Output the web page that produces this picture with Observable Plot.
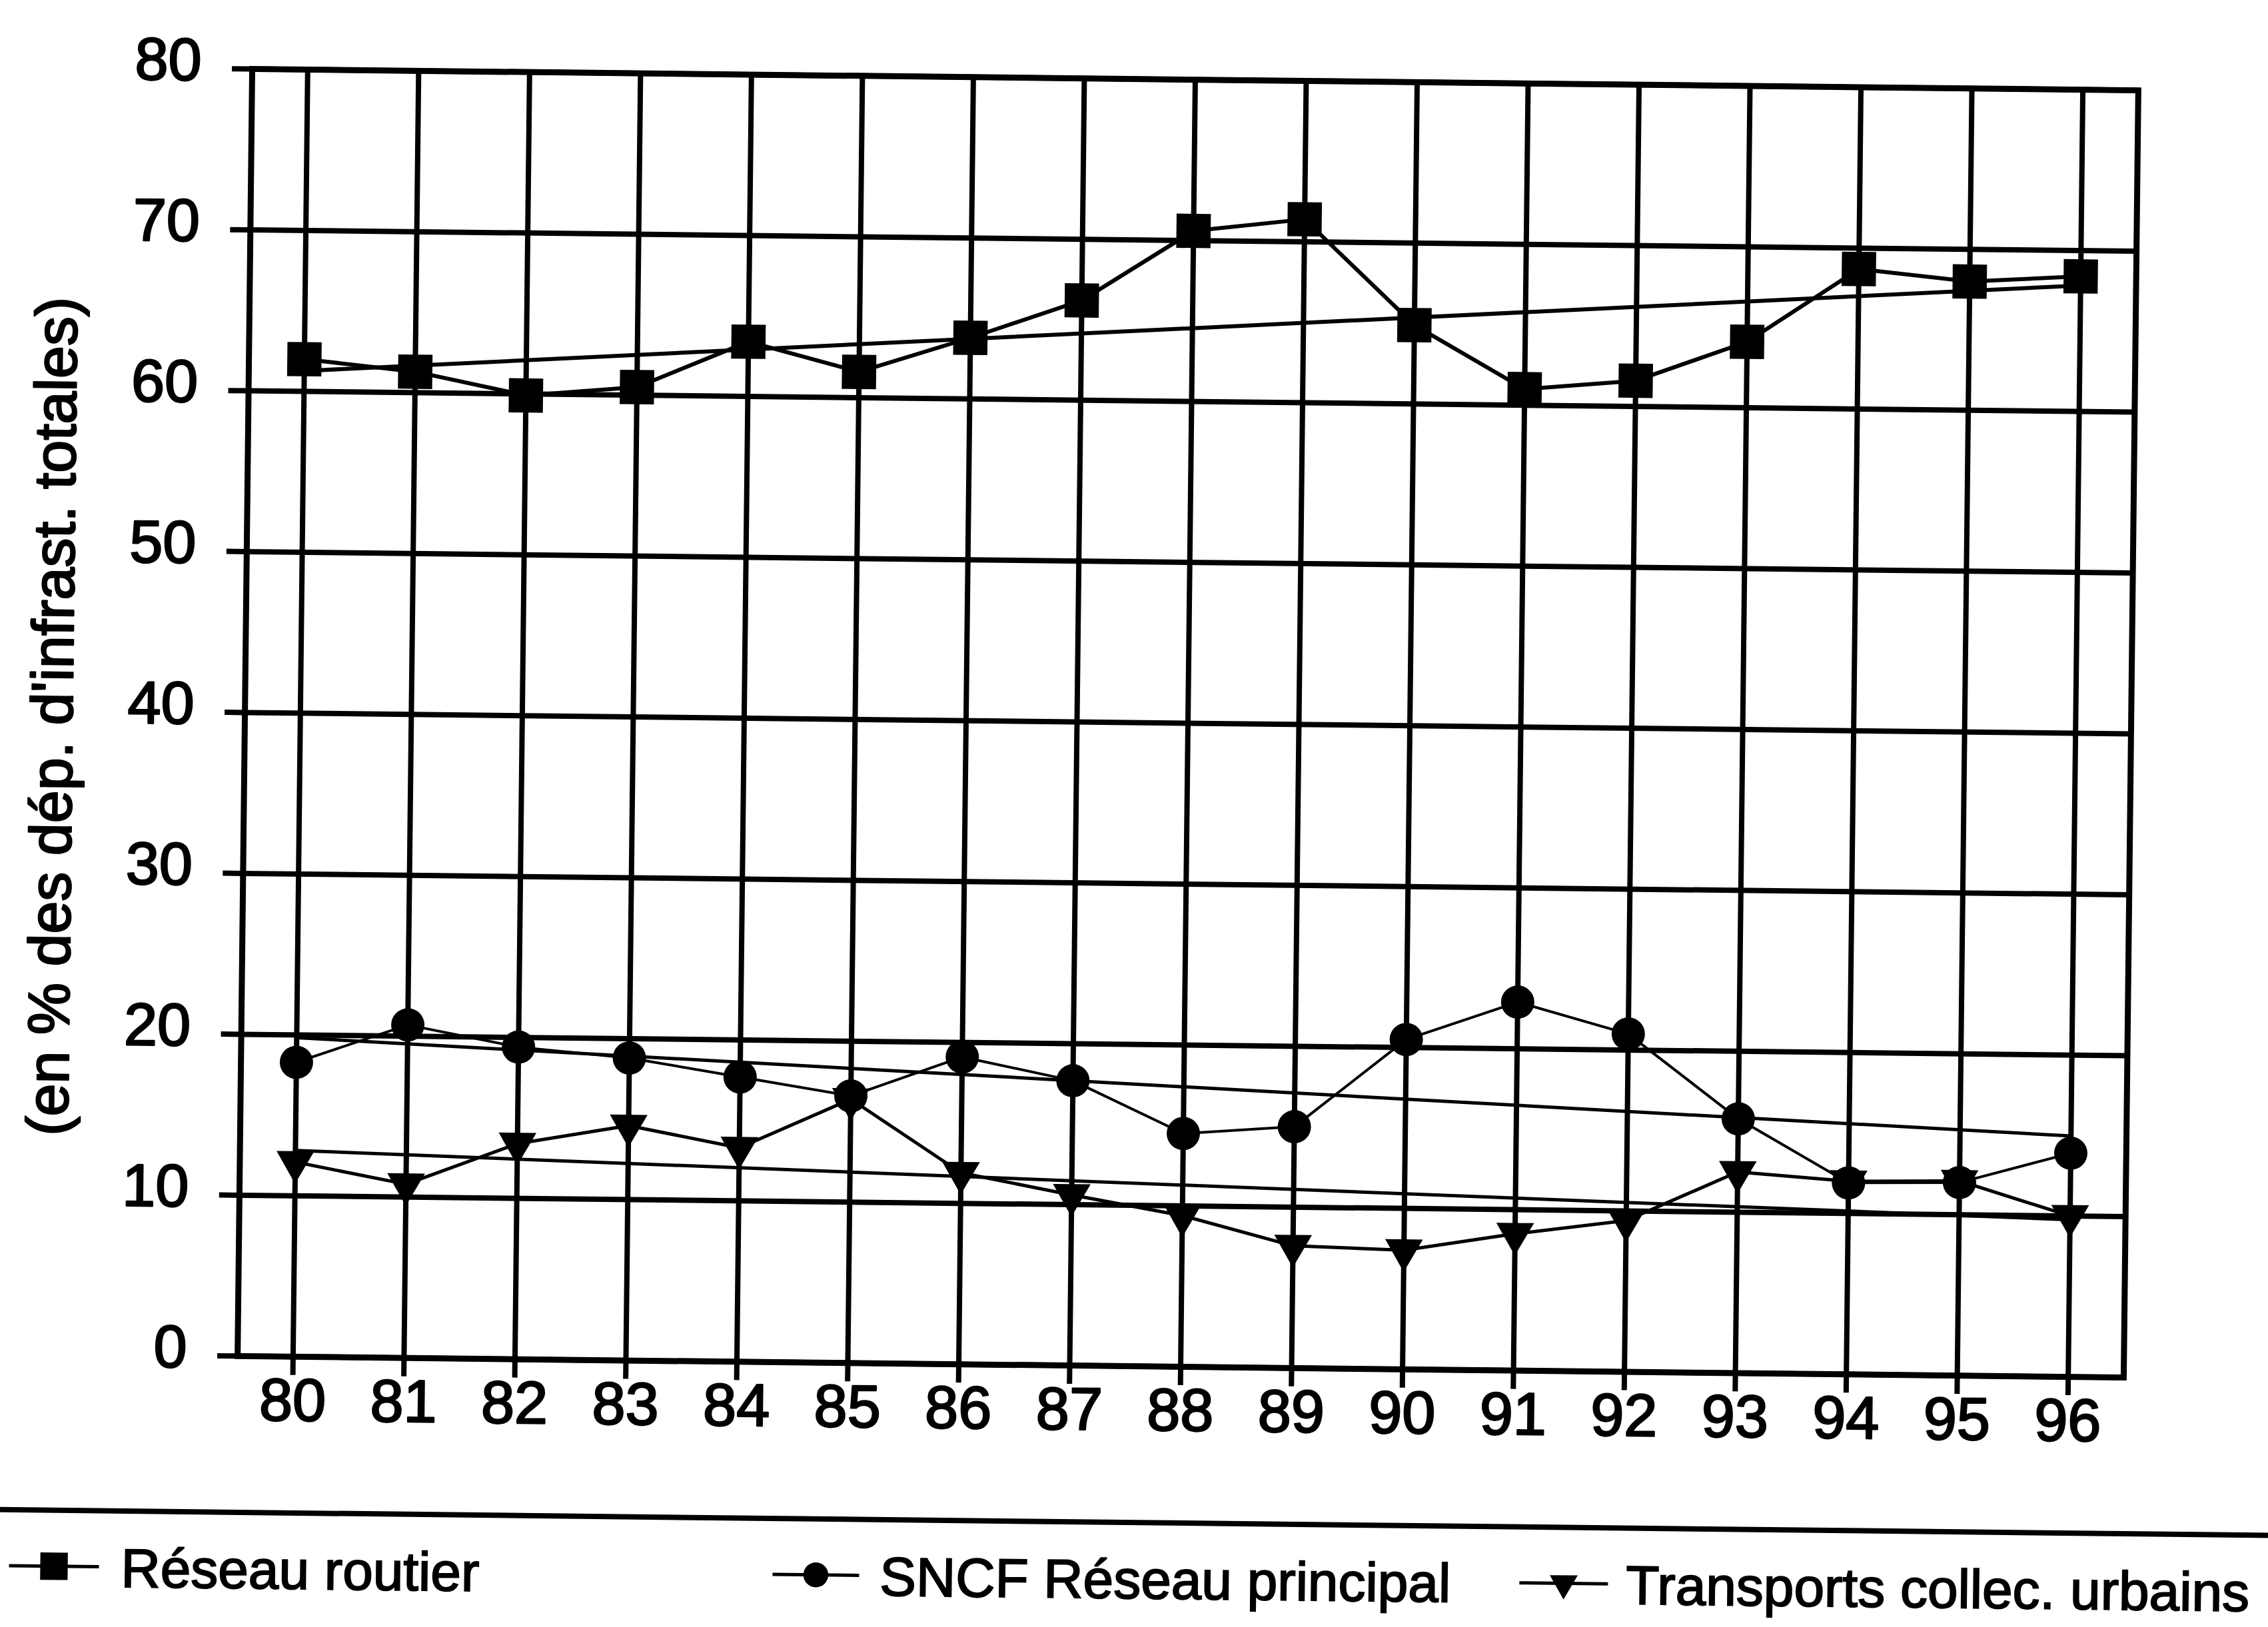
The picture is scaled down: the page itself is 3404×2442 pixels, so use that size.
<!DOCTYPE html>
<html>
<head>
<meta charset="utf-8">
<script src="https://cdn.jsdelivr.net/npm/d3@7"></script>
<script src="https://cdn.jsdelivr.net/npm/@observablehq/plot@0.6"></script>
<style>
  html, body { margin: 0; padding: 0; background: #fff; width: 3404px; height: 2442px; overflow: hidden; }
  #wrap {
    position: absolute; left: 0; top: 0; width: 3404px; height: 2442px;
    transform: rotate(0.65deg); transform-origin: 1783px 1085px;
    font-family: "Liberation Sans", Arial, sans-serif; color: #000;
  }
  #chart { position: absolute; left: 0; top: 0; }
  #legend { position: absolute; left: 0; top: 2201px; }
</style>
</head>
<body>
<div id="wrap"><div id="chart"></div><div id="legend"></div></div>
<script>
// ---- data ----
const years = [80, 81, 82, 83, 84, 85, 86, 87, 88, 89, 90, 91, 92, 93, 94, 95, 96];
const reseauRoutier = [62.0, 61.3, 59.9, 60.5, 63.4, 61.6, 63.8, 66.2, 70.6, 71.4, 64.9, 61.0, 61.6, 64.1, 68.7, 68.0, 68.4];
const sncfReseauPrincipal = [18.3, 20.7, 19.4, 18.8, 17.7, 16.6, 19.1, 17.7, 14.5, 15.0, 20.5, 22.9, 21.0, 15.8, 11.9, 12.0, 13.9];
const transportsCollecUrbains = [12.1, 10.8, 13.4, 14.6, 13.3, 16.4, 11.9, 10.6, 9.4, 7.6, 7.4, 8.5, 9.4, 12.5, 12.0, 12.1, 10.0];
const yTicks = [0, 10, 20, 30, 40, 50, 60, 70, 80];
const seriesNames = ["Réseau routier", "SNCF Réseau principal", "Transports collec. urbains"];
const yLabel = "(en % des dép. d'infrast. totales)";

// ---- build tables ----
const toRows = vals => years.map((x, i) => ({x, y: vals[i]}));
const routier = toRows(reseauRoutier);
const sncf = toRows(sncfReseauPrincipal);
const transports = toRows(transportsCollecUrbains);

// downward-pointing triangle symbol (same area convention as d3.symbolTriangle)
const triangleDown = {
  draw(context, size) {
    const y = -Math.sqrt(size / (Math.sqrt(3) * 3));
    context.moveTo(0, -2 * y);
    context.lineTo(-Math.sqrt(3) * y, y);
    context.lineTo(Math.sqrt(3) * y, y);
    context.closePath();
  }
};

const font = '"Liberation Sans", Arial, sans-serif';
const ink = "black";

const chart = Plot.plot({
  width: 3404,
  height: 2201,
  marginLeft: 367,
  marginRight: 206,
  marginTop: 119,
  marginBottom: 150,
  style: {fontFamily: font, fontSize: "90px", color: ink, background: "white", overflow: "visible"},
  x: {domain: [79.5, 96.5]},
  y: {domain: [0, 80]},
  marks: [
    Plot.gridX(years, {stroke: ink, strokeOpacity: 1, strokeWidth: 8}),
    Plot.gridY(yTicks, {stroke: ink, strokeOpacity: 1, strokeWidth: 8}),
    Plot.frame({stroke: ink, strokeWidth: 9}),
    Plot.axisX(years, {tickSize: 28, tickPadding: 4, fontSize: 90, strokeWidth: 8, label: null,
      tickFormat: d => String(d), textStroke: ink, textStrokeWidth: 2.5}),
    Plot.axisY(yTicks, {tickSize: 30, strokeWidth: 8, label: null, tickFormat: () => ""}),
    Plot.axisY(yTicks, {tickSize: 0, tickPadding: 76, dy: -11, fontSize: 90, label: null,
      tickFormat: d => String(d), textStroke: ink, textStrokeWidth: 2.5}),
    Plot.text([yLabel], {text: d => d, frameAnchor: "left", textAnchor: "middle", rotate: -90,
      dx: -287, dy: 9, fontSize: 88, fill: ink, stroke: ink, strokeWidth: 2.5}),
    // trend lines
    Plot.linearRegressionY(routier, {x: "x", y: "y", stroke: ink, strokeWidth: 6, ci: 0}),
    Plot.linearRegressionY(sncf, {x: "x", y: "y", stroke: ink, strokeWidth: 5, ci: 0}),
    Plot.linearRegressionY(transports, {x: "x", y: "y", stroke: ink, strokeWidth: 5, ci: 0}),
    // series
    Plot.line(routier, {x: "x", y: "y", stroke: ink, strokeWidth: 6}),
    Plot.line(sncf, {x: "x", y: "y", stroke: ink, strokeWidth: 4}),
    Plot.line(transports, {x: "x", y: "y", stroke: ink, strokeWidth: 5}),
    Plot.dot(routier, {x: "x", y: "y", symbol: "square", r: 29, fill: ink}),
    Plot.dot(sncf, {x: "x", y: "y", symbol: "circle", r: 25, fill: ink}),
    Plot.dot(transports, {x: "x", y: "y", symbol: triangleDown, r: 21, fill: ink})
  ]
});
document.getElementById("chart").appendChild(chart);

// ---- legend below the chart ----
const legendSvg = d3.select("#legend").append("svg")
  .attr("width", 3404).attr("height", 241)
  .style("overflow", "visible");

legendSvg.append("line")
  .attr("x1", -60).attr("x2", 3464).attr("y1", 85).attr("y2", 85)
  .attr("stroke", ink).attr("stroke-width", 8);

const symbols = [d3.symbolSquare, d3.symbolCircle, triangleDown];
const symbolSizes = [1700, 1100, 760];
const legendX = [28, 1174, 2295];     // start of each key's line
const keyWidth = [135, 130, 133];
const textGap = [33, 31, 27];
const baseline = 199, symY = 169;

seriesNames.forEach((name, i) => {
  const g = legendSvg.append("g");
  const x0 = legendX[i], x1 = x0 + keyWidth[i], cx = (x0 + x1) / 2;
  g.append("line").attr("x1", x0).attr("x2", x1).attr("y1", symY).attr("y2", symY)
    .attr("stroke", ink).attr("stroke-width", 5);
  g.append("path").attr("d", d3.symbol(symbols[i], symbolSizes[i])())
    .attr("transform", `translate(${cx},${symY})`).attr("fill", ink);
  g.append("text").attr("x", x1 + textGap[i]).attr("y", baseline)
    .attr("font-family", font).attr("font-size", 82).attr("fill", ink)
    .attr("stroke", ink).attr("stroke-width", 2)
    .text(name);
});
</script>
</body>
</html>
